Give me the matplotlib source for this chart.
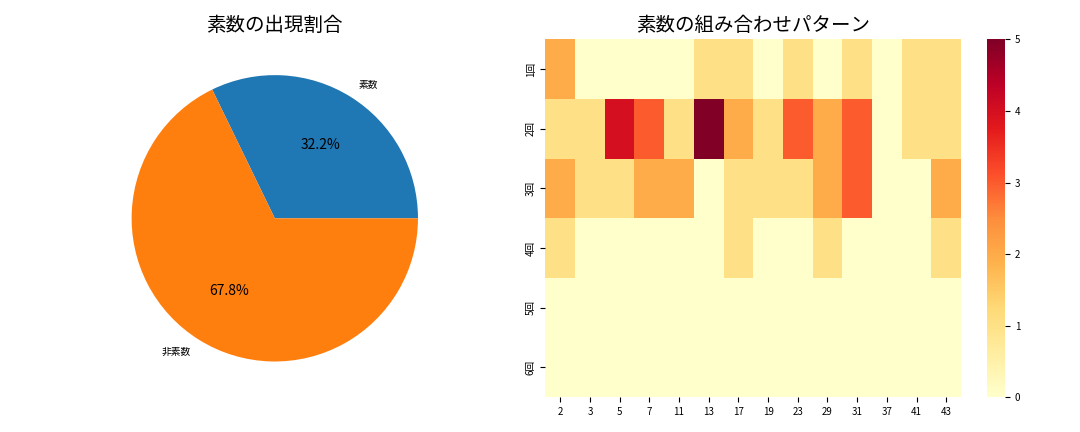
import matplotlib
matplotlib.use("Agg")
import matplotlib.pyplot as plt
import seaborn as sns
import numpy as np

plt.rcParams['font.family'] = ['Noto Sans CJK JP', 'DejaVu Sans']

pie_labels = ['素数', '非素数']
pie_values = [32.2, 67.8]

primes = ['2', '3', '5', '7', '11', '13', '17', '19', '23', '29', '31', '37', '41', '43']
rows = ['1回', '2回', '3回', '4回', '5回', '6回']
counts = [
    [2, 0, 0, 0, 0, 1, 1, 0, 1, 0, 1, 0, 1, 1],
    [1, 1, 4, 3, 1, 5, 2, 1, 3, 2, 3, 0, 1, 1],
    [2, 1, 1, 2, 2, 0, 1, 1, 1, 2, 3, 0, 0, 2],
    [1, 0, 0, 0, 0, 0, 1, 0, 0, 1, 0, 0, 0, 1],
    [0] * 14,
    [0] * 14,
]

fig, (ax1, ax2) = plt.subplots(1, 2, figsize=(10.8, 4.32), dpi=100)

_, texts, autotexts = ax1.pie(pie_values, labels=pie_labels, autopct='%1.1f%%',
                              colors=['#1f77b4', '#ff7f0e'])
for t in texts:
    t.set_fontsize(7)
for t in autotexts:
    t.set_fontsize(10)
ax1.set_title('素数の出現割合', fontsize=14)

sns.heatmap(np.array(counts), ax=ax2, cmap='YlOrRd', vmin=0, vmax=5,
            xticklabels=primes, yticklabels=rows)
ax2.tick_params(labelsize=7)
cb = ax2.collections[0].colorbar
cb.ax.tick_params(labelsize=7)
ax2.set_title('素数の組み合わせパターン', fontsize=14)

plt.tight_layout()
plt.savefig('out.png')
